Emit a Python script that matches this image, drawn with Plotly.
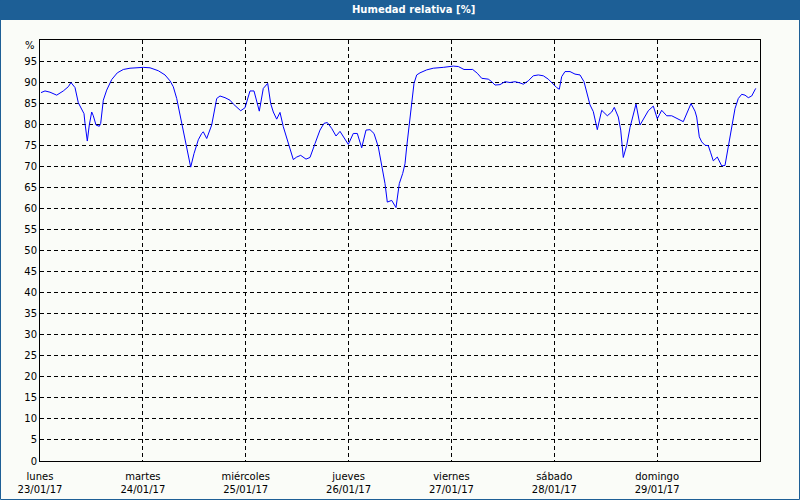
import plotly.graph_objects as go

# Hours since Monday 23/01/17 00:00
hours = [0.23, 1.17, 2.33, 3.90, 5.44, 6.60, 7.23, 8.17, 8.94, 9.73, 10.27, 10.50, 11.04, 11.50,
         12.06, 12.44, 13.07, 13.84, 14.16, 14.77, 15.56, 16.73, 18.04, 19.44, 21.00, 24.10,
         25.67, 27.60, 29.17, 30.33, 31.10, 31.90, 32.67, 33.44, 34.23, 35.16, 35.93, 36.94,
         37.73, 38.10, 38.90, 40.06, 41.23, 42.00, 43.17, 44.33, 45.10, 45.90, 46.83, 47.83,
         49.00, 49.93, 50.56, 51.17, 52.10, 53.13, 53.83, 54.44, 55.23, 56.00, 56.77, 57.56,
         58.33, 59.10, 59.90, 60.83, 62.07, 63.00, 64.17, 65.33, 66.27, 67.04, 68.06, 69.07,
         70.00, 70.77, 71.94, 73.10, 74.04, 75.06, 76.07, 77.00, 77.93, 78.94, 79.73, 80.50,
         81.04, 82.06, 83.07, 83.84, 84.63, 85.17, 85.56, 86.17, 86.73, 87.27, 87.90, 88.67,
         90.23, 91.77, 94.10, 96.44, 97.60, 98.93, 100.96, 102.04, 103.06, 104.60, 105.40,
         106.17, 107.33, 108.50, 109.67, 110.83, 112.00, 112.77, 113.94, 115.10, 116.27,
         117.44, 118.60, 119.77, 120.56, 121.17, 121.73, 122.50, 123.67, 124.83, 126.00,
         126.93, 127.56, 128.33, 129.10, 130.04, 131.06, 131.83, 132.37, 133.40, 134.00,
         134.94, 135.50, 136.10, 136.90, 137.67, 138.44, 139.07, 140.00, 140.77, 141.94,
         143.10, 144.04, 145.06, 146.23, 147.40, 148.56, 149.33, 150.10, 151.04, 151.90,
         152.83, 153.23, 153.84, 154.40, 155.17, 155.94, 156.50, 157.10, 158.04, 158.67,
         159.06, 159.83, 160.60, 161.40, 162.17, 162.94, 163.73, 164.50, 165.27, 166.06, 167.00]

humidity = [87.5, 87.9, 87.6, 86.9, 87.9, 88.9, 89.9, 88.7, 85.1, 83.5, 82.5, 80.2, 76.0, 79.8,
            82.9, 82.0, 79.8, 79.5, 80.2, 85.7, 88.1, 90.6, 92.2, 93.0, 93.3, 93.5,
            93.4, 92.7, 91.7, 90.3, 88.9, 86.1, 82.1, 78.2, 74.6, 69.8, 73.0, 76.3,
            77.8, 78.2, 76.6, 79.8, 86.1, 86.7, 86.3, 85.7, 84.8, 84.1, 83.2, 83.9,
            87.9, 87.9, 85.7, 83.1, 88.5, 89.7, 84.9, 82.9, 81.2, 82.8, 79.4, 76.6,
            73.8, 71.6, 72.2, 72.6, 71.7, 72.1, 75.4, 78.6, 80.2, 80.4, 79.0, 77.2,
            78.3, 77.0, 75.2, 77.8, 77.8, 74.4, 78.6, 78.7, 77.8, 74.6, 70.6, 65.9,
            61.5, 61.9, 60.2, 65.9, 68.3, 70.6, 74.6, 80.2, 84.9, 89.7, 91.7, 92.2,
            92.9, 93.3, 93.5, 93.8, 93.7, 93.0, 93.0, 92.1, 90.9, 90.7, 90.1,
            89.3, 89.4, 90.1, 89.9, 90.1, 89.8, 89.5, 90.3, 91.5, 91.7,
            91.5, 90.7, 89.4, 88.7, 88.3, 91.3, 92.5, 92.5, 91.9, 91.7,
            90.1, 87.3, 84.6, 83.0, 78.7, 83.3, 82.5, 82.0, 82.9, 84.0,
            81.7, 78.6, 72.1, 75.0, 79.2, 82.7, 84.8, 79.8, 81.3, 83.2,
            84.3, 81.3, 83.3, 82.0, 82.0, 81.5, 81.0, 80.6, 82.9, 84.9,
            83.1, 81.7, 77.0, 75.8, 75.0, 74.9, 73.2, 71.3, 72.2, 70.8,
            70.1, 70.2, 74.6, 79.8, 83.7, 86.1, 87.1, 86.9, 86.3, 86.7, 88.5]

day_ticks = [0, 24, 48, 72, 96, 120, 144]
day_labels = ["lunes<br>23/01/17", "martes<br>24/01/17", "miércoles<br>25/01/17",
              "jueves<br>26/01/17", "viernes<br>27/01/17", "sábado<br>28/01/17",
              "domingo<br>29/01/17"]
y_ticks = list(range(0, 100, 5))
y_labels = [str(v) for v in y_ticks]
unit_label = "%"

title_text = "Humedad relativa [%]"

W, H = 800, 500
L, R, T, B = 40, 40, 40, 39
pw, ph = W - L - R, H - T - B


def px_x(p):
    return (p - L) / pw


def px_y(p):
    return (H - B - p) / ph


BLUE = "#1d5f96"
BG = "#fafcf8"

fig = go.Figure()
fig.add_trace(go.Scatter(x=hours, y=humidity, mode="lines",
                         line=dict(color="#0000ff", width=1), hoverinfo="skip"))

font = dict(family="DejaVu Sans, Tahoma, sans-serif", size=10, color="#000000")

fig.update_layout(
    width=W, height=H,
    margin=dict(l=L, r=R, t=T, b=B, pad=0, autoexpand=False),
    paper_bgcolor=BG, plot_bgcolor=BG,
    showlegend=False,
    font=font,
    xaxis=dict(range=[0, 168], tickvals=day_ticks, ticktext=day_labels,
               showgrid=True, gridcolor="#000000", gridwidth=1, griddash="4px,3px",
               showline=True, linecolor="#000000", linewidth=1, mirror=True,
               ticks="", ticklabelstandoff=6, zeroline=False, tickfont=font,
               automargin=False),
    yaxis=dict(range=[0, 100], tickvals=y_ticks, ticktext=y_labels,
               showgrid=True, gridcolor="#000000", gridwidth=1, griddash="4px,3px",
               showline=True, linecolor="#000000", linewidth=1, mirror=True,
               ticks="", zeroline=False, tickfont=font, automargin=False),
    shapes=[
        dict(type="rect", xref="paper", yref="paper",
             x0=px_x(0), x1=px_x(W), y0=px_y(20), y1=px_y(0),
             fillcolor=BLUE, line=dict(width=0), layer="above"),
        dict(type="rect", xref="paper", yref="paper",
             x0=px_x(0.5), x1=px_x(W - 0.5), y0=px_y(H - 0.5), y1=px_y(0.5),
             fillcolor="rgba(0,0,0,0)", line=dict(color=BLUE, width=1), layer="above"),
    ],
    annotations=[
        dict(text="<b>" + title_text + "</b>", xref="paper", yref="paper",
             x=px_x(413), y=px_y(10), xanchor="center", yanchor="middle",
             showarrow=False,
             font=dict(family="DejaVu Sans, Tahoma, sans-serif", size=10, color="#ffffff")),
        dict(text=unit_label, xref="paper", yref="paper",
             x=px_x(37), y=px_y(45), xanchor="right", yanchor="middle",
             showarrow=False, font=font),
    ],
)

fig.write_html("out.html", config={"displayModeBar": False},
               post_script="document.body.style.margin='0px';document.body.style.overflow='hidden';")
